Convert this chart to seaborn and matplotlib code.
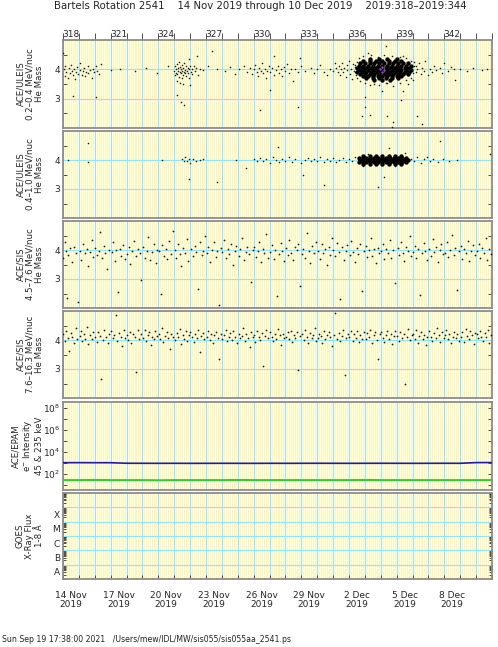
import numpy as np
import pandas as pd
import matplotlib
matplotlib.use("Agg")
import matplotlib.pyplot as plt
import matplotlib.ticker as mticker
import seaborn as sns

sns.set_theme(style="white")
plt.rcParams["font.family"] = ["DejaVu Sans"]

# Bartels rotation 2541, day of year 2019
day_start = 318
day_end = 345
top_labels = ["318", "321", "324", "327", "330", "333", "336", "339", "342"]
bottom_labels = ["14 Nov\n2019", "17 Nov\n2019", "20 Nov\n2019", "23 Nov\n2019", "26 Nov\n2019",
                 "29 Nov\n2019", "2 Dec\n2019", "5 Dec\n2019", "8 Dec\n2019"]
panel_labels = ["ACE/ULEIS\n0.2–0.4 MeV/nuc\nHe Mass",
                "ACE/ULEIS\n0.4–1.0 MeV/nuc\nHe Mass",
                "ACE/SIS\n4.5–7.6 MeV/nuc\nHe Mass",
                "ACE/SIS\n7.6–16.3 MeV/nuc\nHe Mass",
                "ACE/EPAM\ne$^{-}$ Intensity\n45 & 235 keV",
                "GOES\nX-Ray Flux\n1-8 Å"]
goes_classes = ["A", "B", "C", "M", "X"]

# ULEIS 0.2-0.4 MeV/nuc: scattered points (day, mass)
uleis_lo = [
    (318.02, 4.55), (318.05, 4.00), (318.10, 3.78), (318.15, 4.10), (318.22, 3.92), (318.30, 3.70),
    (318.35, 4.05), (318.42, 3.88), (318.50, 4.15), (318.55, 3.95), (318.60, 3.10), (318.64, 3.82),
    (318.70, 4.02), (318.75, 3.66), (318.80, 3.90), (318.88, 4.08), (318.95, 3.85), (319.05, 3.98),
    (319.10, 4.20), (319.18, 3.82), (319.25, 3.95), (319.30, 4.05), (319.38, 3.76), (319.45, 3.92),
    (319.55, 4.10), (319.60, 3.88), (319.70, 3.98), (319.80, 3.72), (319.88, 4.02), (319.95, 3.90),
    (320.05, 4.12), (320.10, 3.05), (320.15, 3.95), (320.25, 3.85), (320.40, 4.18),
    (321.0, 3.97), (321.6, 4.00), (322.5, 3.95), (323.2, 4.05), (323.9, 3.88), (324.6, 4.10),
    (325.00, 3.95), (325.04, 4.12), (325.07, 3.80), (325.10, 4.02), (325.13, 3.88), (325.16, 4.18),
    (325.19, 3.84), (325.22, 4.05), (325.25, 3.96), (325.28, 4.24), (325.31, 3.74), (325.34, 3.92),
    (325.37, 4.08), (325.40, 3.86), (325.43, 4.00), (325.46, 3.70), (325.49, 4.14), (325.52, 3.94),
    (325.55, 3.82), (325.58, 4.04), (325.61, 3.90), (325.64, 4.20), (325.67, 3.86), (325.70, 3.98),
    (325.73, 4.10), (325.76, 3.78), (325.80, 3.95), (325.84, 4.06), (325.88, 3.88), (325.92, 4.00),
    (325.96, 3.72), (326.00, 4.12), (326.05, 3.92), (326.10, 4.02), (326.15, 3.85), (326.22, 4.10),
    (326.30, 3.95), (326.40, 4.05), (326.50, 3.80), (326.62, 4.00), (325.15, 3.60), (325.35, 3.55),
    (325.55, 3.50), (325.20, 3.12), (325.40, 2.88), (325.60, 2.80), (326.0, 3.45), (326.45, 4.45),
    (325.90, 4.35), (326.8, 3.98), (327.1, 4.10), (327.4, 4.62), (327.7, 4.02), (328.2, 3.95),
    (328.5, 4.08), (328.8, 3.85), (329.1, 4.00), (329.4, 4.12), (329.6, 3.92),
    (329.8, 4.05), (329.9, 3.85), (330.0, 4.00), (330.1, 4.15), (330.2, 3.92), (330.3, 3.78),
    (330.35, 4.05), (330.45, 3.95), (330.5, 4.20), (330.6, 3.88), (330.7, 4.02), (330.75, 3.70),
    (330.85, 3.96), (330.95, 4.10), (331.0, 3.30), (331.05, 3.90), (331.15, 4.05), (331.25, 3.82),
    (331.3, 4.45), (331.4, 3.98), (331.5, 4.12), (331.6, 3.86), (331.7, 4.00), (331.8, 3.76),
    (331.9, 4.08), (332.0, 3.94), (332.1, 4.18), (332.2, 3.88), (332.35, 4.02), (332.45, 3.60),
    (330.4, 2.62), (332.6, 4.00), (332.8, 3.90), (333.0, 4.10), (333.2, 3.95), (332.8, 2.70),
    (333.6, 4.05), (333.8, 3.88), (334.0, 4.00), (334.2, 4.15), (334.4, 3.92), (334.6, 3.80),
    (334.8, 4.02), (335.0, 3.96), (335.1, 4.20), (332.9, 4.38),
    (335.2, 4.05), (335.3, 3.90), (335.35, 4.12), (335.45, 3.80), (335.5, 4.00), (335.55, 4.22),
    (335.65, 3.92), (335.7, 4.06), (335.8, 3.75), (335.85, 4.15), (335.9, 3.98), (336.0, 4.30),
    (336.05, 3.85), (336.1, 4.02), (336.2, 3.68), (336.25, 4.18), (336.3, 3.94), (336.4, 4.08),
    (336.45, 3.82), (336.5, 4.25), (336.55, 3.98),
    (337.0, 3.05), (337.0, 2.70), (336.8, 2.40), (337.3, 2.45), (338.4, 2.40), (338.8, 2.20),
    (338.7, 2.05), (339.3, 2.95), (339.4, 3.25), (338.1, 3.25), (338.4, 3.55), (337.6, 3.50),
    (339.7, 3.50), (340.0, 3.65), (338.3, 4.80), (337.2, 4.55), (339.4, 4.45),
    (336.6, 4.40), (336.9, 4.45), (337.4, 4.48), (337.8, 4.42), (338.2, 4.50), (338.7, 4.46),
    (339.2, 4.43), (339.6, 4.38), (339.9, 4.30), (340.1, 4.25), (336.5, 3.70), (336.7, 3.60),
    (337.0, 3.55), (337.3, 3.45), (337.9, 3.48), (338.3, 3.52), (338.8, 3.42), (339.2, 3.55),
    (339.6, 3.62), (339.9, 3.70), (340.0, 3.88), (340.2, 4.12), (336.4, 3.90), (336.4, 4.15),
    (340.1, 4.10), (340.2, 3.90), (340.3, 4.02), (340.4, 4.20), (340.5, 3.85), (340.6, 4.05),
    (340.7, 3.95), (340.8, 4.30), (340.95, 3.80), (341.1, 4.02), (341.2, 3.92), (341.35, 4.12),
    (341.5, 3.98), (341.7, 4.05), (341.85, 3.88), (342.0, 4.22), (342.2, 3.95), (342.4, 4.08),
    (342.6, 4.00), (342.7, 3.65), (340.3, 2.40), (340.6, 2.15),
    (343.0, 4.00), (343.4, 3.95), (343.8, 4.05), (344.4, 3.98), (344.7, 4.00),
]
# dense core of the event, rows of (mass, days)
uleis_lo_core = [
    (4.34, [337.3, 337.9, 338.4, 339.0]),
    (4.27, [336.9, 337.3, 337.7, 338.1, 338.5, 338.9, 339.3]),
    (4.20, [336.7, 337.0, 337.3, 337.6, 337.9, 338.2, 338.5, 338.8, 339.1, 339.4, 339.7]),
    (4.13, [336.6, 336.9, 337.2, 337.5, 337.8, 338.1, 338.4, 338.7, 339.0, 339.3, 339.6, 339.9]),
    (4.06, [336.5, 336.8, 337.1, 337.4, 337.7, 338.0, 338.3, 338.6, 338.9, 339.2, 339.5, 339.8]),
    (3.99, [336.6, 336.9, 337.2, 337.5, 337.8, 338.1, 338.4, 338.7, 339.0, 339.3, 339.6, 339.9]),
    (3.92, [336.5, 336.8, 337.1, 337.4, 337.7, 338.0, 338.3, 338.6, 338.9, 339.2, 339.5, 339.8]),
    (3.85, [336.7, 337.0, 337.3, 337.6, 337.9, 338.2, 338.5, 338.8, 339.1, 339.4, 339.7]),
    (3.78, [336.9, 337.2, 337.5, 337.8, 338.1, 338.4, 338.7, 339.0, 339.3]),
    (3.71, [337.1, 337.5, 337.9, 338.3, 338.7, 339.1]),
    (3.64, [337.6, 338.1, 338.6]),
]
uleis_lo_purple = [(337.95, 4.02), (338.1, 4.08), (338.2, 3.97), (338.05, 3.92)]

# ULEIS 0.4-1.0 MeV/nuc
uleis_hi = [
    (318.3, 4.00), (319.6, 4.60), (319.55, 3.92), (324.2, 4.00), (325.5, 4.05), (325.6, 3.95),
    (325.7, 4.10), (325.8, 3.98), (325.9, 4.02), (326.0, 3.90), (326.2, 4.05), (326.4, 3.95),
    (326.6, 4.00), (326.8, 4.02), (325.9, 3.35), (327.7, 3.25), (328.9, 4.00), (329.5, 3.72),
    (330.0, 4.02), (330.2, 3.95), (330.4, 4.08), (330.6, 3.98), (330.8, 4.05), (331.0, 3.90),
    (331.2, 4.12), (331.5, 4.45), (331.4, 4.00), (331.6, 3.92), (331.8, 4.05), (332.0, 3.98),
    (332.2, 4.10), (332.4, 3.94), (332.6, 4.02), (333.0, 3.90), (333.2, 4.00), (333.4, 4.08),
    (333.6, 3.96), (333.8, 4.04), (334.0, 3.98), (334.2, 4.10), (334.4, 3.92), (334.6, 4.02),
    (334.8, 3.96), (335.0, 4.06), (335.2, 3.94), (335.4, 4.00), (335.6, 4.08), (335.8, 3.92),
    (336.0, 4.04), (336.2, 3.98), (336.4, 4.10), (333.1, 3.48), (334.4, 3.14), (337.8, 3.07),
    (338.2, 3.41), (338.5, 4.41), (341.7, 4.65), (344.9, 4.20), (339.9, 4.05), (340.1, 3.95),
    (340.3, 4.10), (340.5, 3.90), (340.7, 4.02), (340.9, 4.12), (341.1, 3.96), (341.3, 4.05),
    (341.6, 3.92), (341.9, 4.02), (342.3, 3.98), (342.8, 4.00), (337.2, 4.22), (338.9, 3.78),
    (339.5, 4.25), (336.9, 3.80),
]
uleis_hi_core = [
    (4.13, [336.9, 337.3, 337.7, 338.1, 338.5, 338.9, 339.3]),
    (4.06, [336.6, 336.85, 337.1, 337.35, 337.6, 337.85, 338.1, 338.35, 338.6, 338.85, 339.1, 339.35, 339.6]),
    (4.00, [336.7, 336.95, 337.2, 337.45, 337.7, 337.95, 338.2, 338.45, 338.7, 338.95, 339.2, 339.45, 339.7]),
    (3.94, [336.6, 336.85, 337.1, 337.35, 337.6, 337.85, 338.1, 338.35, 338.6, 338.85, 339.1, 339.35, 339.6]),
    (3.87, [336.9, 337.3, 337.7, 338.1, 338.5, 338.9, 339.3]),
]

# SIS 4.5-7.6 MeV/nuc: per day, (fraction of day, mass)
sis_lo = {
    318: [(.03, 3.72), (.11, 4.28), (.19, 3.95), (.26, 2.35), (.34, 3.84), (.47, 4.06), (.58, 3.58), (.69, 4.12), (.81, 3.90), (.93, 2.22)],
    319: [(.05, 3.98), (.14, 3.66), (.23, 4.21), (.38, 3.88), (.49, 4.02), (.57, 3.45), (.68, 3.93), (.80, 4.35), (.90, 3.77)],
    320: [(.02, 4.08), (.12, 3.82), (.25, 3.97), (.33, 4.62), (.44, 3.71), (.55, 4.15), (.66, 3.89), (.77, 3.36), (.88, 4.01)],
    321: [(.06, 3.93), (.15, 4.27), (.27, 3.62), (.36, 3.99), (.45, 2.55), (.56, 4.05), (.65, 3.80), (.79, 4.18), (.91, 3.70)],
    322: [(.04, 3.86), (.13, 4.12), (.24, 3.52), (.35, 3.95), (.46, 4.30), (.58, 3.78), (.70, 4.02), (.82, 3.90), (.94, 2.95)],
    323: [(.03, 4.10), (.16, 3.74), (.26, 3.98), (.37, 4.44), (.48, 3.66), (.59, 3.92), (.71, 4.20), (.83, 3.55), (.92, 4.00)],
    324: [(.05, 3.95), (.14, 2.48), (.25, 4.16), (.34, 3.81), (.47, 4.05), (.57, 3.69), (.68, 4.32), (.79, 3.87), (.90, 4.64)],
    325: [(.02, 3.99), (.12, 3.73), (.23, 4.22), (.35, 3.86), (.44, 3.44), (.56, 4.08), (.67, 3.91), (.78, 4.38), (.89, 3.62)],
    326: [(.07, 4.03), (.18, 3.79), (.28, 4.14), (.39, 3.93), (.50, 2.65), (.60, 4.26), (.72, 3.84), (.84, 3.97), (.95, 4.47)],
    327: [(.04, 3.88), (.15, 4.11), (.26, 3.60), (.37, 4.00), (.48, 4.29), (.60, 3.76), (.70, 3.95), (.81, 2.12), (.92, 4.06)],
    328: [(.03, 3.92), (.14, 4.33), (.24, 3.71), (.36, 4.04), (.46, 3.85), (.57, 4.19), (.69, 3.50), (.80, 3.97), (.90, 4.15)],
    329: [(.06, 3.80), (.17, 4.02), (.27, 4.41), (.38, 3.66), (.49, 3.94), (.60, 4.12), (.71, 3.87), (.82, 2.90), (.93, 4.00)],
    330: [(.02, 4.09), (.13, 3.77), (.25, 3.96), (.36, 4.27), (.45, 3.58), (.57, 4.03), (.68, 3.89), (.79, 4.55), (.90, 3.72)],
    331: [(.05, 3.93), (.16, 4.18), (.26, 3.69), (.37, 4.01), (.48, 2.42), (.58, 3.85), (.70, 4.24), (.80, 3.96), (.92, 3.63)],
    332: [(.04, 4.07), (.15, 3.82), (.25, 4.36), (.35, 3.90), (.47, 3.64), (.59, 4.10), (.70, 3.99), (.81, 4.20), (.93, 2.75)],
    333: [(.03, 3.86), (.12, 4.05), (.24, 3.74), (.36, 4.58), (.46, 3.97), (.57, 3.56), (.69, 4.15), (.78, 3.91), (.90, 4.28)],
    334: [(.06, 3.95), (.17, 3.70), (.28, 4.19), (.39, 3.88), (.50, 4.03), (.61, 3.48), (.72, 4.12), (.83, 3.82), (.94, 4.40)],
    335: [(.02, 4.00), (.14, 3.78), (.24, 4.25), (.35, 3.92), (.45, 2.30), (.56, 4.09), (.67, 3.67), (.79, 3.98), (.90, 4.17)],
    336: [(.05, 3.84), (.15, 4.31), (.26, 3.94), (.38, 3.60), (.48, 4.06), (.58, 3.87), (.70, 4.22), (.81, 2.58), (.92, 3.95)],
    337: [(.04, 4.13), (.14, 3.75), (.25, 3.99), (.36, 4.42), (.46, 3.80), (.57, 4.02), (.68, 3.54), (.80, 4.08), (.91, 3.90)],
    338: [(.03, 3.96), (.13, 4.20), (.23, 3.68), (.34, 4.04), (.45, 3.88), (.56, 4.34), (.66, 3.73), (.78, 4.00), (.89, 2.85)],
    339: [(.06, 4.08), (.16, 3.83), (.27, 4.27), (.37, 3.91), (.49, 3.62), (.60, 4.11), (.71, 3.97), (.82, 4.48), (.93, 3.79)],
    340: [(.02, 3.94), (.13, 4.15), (.24, 3.72), (.35, 4.02), (.46, 2.45), (.57, 3.89), (.69, 4.23), (.80, 3.95), (.90, 3.66)],
    341: [(.05, 4.05), (.15, 3.80), (.26, 4.37), (.38, 3.93), (.48, 4.10), (.59, 3.57), (.70, 4.00), (.82, 4.19), (.93, 3.86)],
    342: [(.04, 3.90), (.14, 4.26), (.25, 3.76), (.36, 3.99), (.47, 4.52), (.58, 3.84), (.69, 4.07), (.79, 2.62), (.91, 3.97)],
    343: [(.03, 4.14), (.12, 3.70), (.24, 4.03), (.35, 3.88), (.46, 4.30), (.57, 3.61), (.68, 3.96), (.80, 4.17), (.92, 3.82)],
    344: [(.06, 3.98), (.17, 4.21), (.27, 3.74), (.38, 4.06), (.49, 3.90), (.60, 4.40), (.70, 3.66), (.81, 4.02), (.93, 3.87)],
}

# SIS 7.6-16.3 MeV/nuc
sis_hi = {
    318: [(.02, 4.20), (.11, 3.95), (.20, 4.32), (.29, 4.08), (.38, 3.62), (.48, 4.25), (.58, 4.12), (.68, 3.90), (.79, 4.40), (.90, 4.05)],
    319: [(.04, 4.15), (.13, 4.30), (.22, 3.98), (.31, 4.22), (.41, 4.05), (.50, 4.45), (.60, 3.85), (.70, 4.18), (.80, 4.02), (.91, 4.28)],
    320: [(.03, 4.10), (.12, 3.92), (.21, 4.26), (.30, 4.14), (.40, 2.65), (.50, 4.00), (.60, 4.35), (.70, 4.12), (.81, 3.88), (.92, 4.22)],
    321: [(.05, 4.30), (.14, 4.06), (.23, 4.18), (.33, 4.85), (.42, 3.95), (.52, 4.24), (.62, 4.10), (.72, 3.78), (.82, 4.36), (.93, 4.08)],
    322: [(.02, 4.16), (.11, 4.00), (.21, 4.28), (.31, 3.90), (.41, 4.20), (.51, 4.12), (.60, 2.90), (.70, 4.34), (.80, 4.04), (.90, 4.20)],
    323: [(.04, 4.08), (.13, 4.36), (.23, 3.96), (.33, 4.18), (.42, 4.26), (.52, 3.82), (.62, 4.12), (.72, 4.02), (.82, 4.30), (.92, 4.14)],
    324: [(.03, 4.22), (.12, 4.04), (.22, 4.40), (.32, 3.92), (.42, 4.14), (.52, 4.28), (.61, 4.06), (.71, 3.70), (.81, 4.20), (.91, 4.10)],
    325: [(.05, 4.00), (.15, 4.24), (.24, 4.12), (.34, 4.38), (.44, 3.86), (.53, 4.18), (.63, 4.04), (.73, 4.30), (.83, 3.98), (.93, 4.16)],
    326: [(.02, 4.26), (.12, 4.10), (.22, 3.94), (.31, 4.20), (.41, 4.06), (.51, 4.34), (.61, 3.60), (.71, 4.14), (.81, 4.24), (.90, 4.02)],
    327: [(.04, 4.12), (.14, 4.30), (.23, 4.00), (.33, 4.22), (.43, 3.90), (.53, 4.16), (.63, 4.28), (.73, 4.06), (.83, 3.34), (.93, 4.20)],
    328: [(.03, 4.04), (.13, 4.18), (.23, 4.36), (.32, 3.96), (.42, 4.12), (.52, 4.24), (.62, 4.00), (.72, 4.32), (.82, 4.10), (.92, 3.88)],
    329: [(.05, 4.22), (.15, 4.06), (.25, 4.14), (.35, 4.42), (.44, 3.98), (.54, 4.20), (.64, 4.08), (.74, 3.76), (.84, 4.26), (.94, 4.12)],
    330: [(.02, 4.16), (.11, 3.92), (.21, 4.30), (.31, 4.10), (.40, 4.00), (.50, 4.24), (.60, 3.10), (.70, 4.14), (.80, 4.34), (.90, 4.06)],
    331: [(.04, 4.28), (.14, 4.12), (.24, 3.98), (.33, 4.20), (.43, 4.04), (.53, 4.38), (.63, 4.16), (.72, 3.84), (.82, 4.22), (.92, 4.08)],
    332: [(.03, 4.10), (.13, 4.26), (.22, 4.02), (.32, 4.32), (.42, 3.94), (.51, 4.18), (.61, 4.06), (.71, 4.28), (.81, 2.95), (.91, 4.14)],
    333: [(.05, 4.20), (.15, 4.00), (.25, 4.34), (.35, 4.12), (.45, 3.90), (.55, 4.24), (.64, 4.08), (.74, 4.16), (.84, 4.40), (.94, 3.96)],
    334: [(.02, 4.06), (.12, 4.22), (.22, 4.14), (.32, 3.88), (.42, 4.30), (.52, 4.02), (.62, 4.18), (.72, 4.26), (.82, 4.10), (.92, 3.80)],
    335: [(.04, 4.18), (.14, 4.92), (.24, 4.04), (.34, 4.24), (.43, 3.96), (.53, 4.14), (.63, 4.36), (.73, 2.78), (.83, 4.08), (.93, 4.20)],
    336: [(.03, 4.12), (.13, 4.30), (.23, 3.98), (.33, 4.20), (.43, 4.06), (.52, 4.32), (.62, 3.92), (.72, 4.16), (.82, 4.04), (.92, 4.26)],
    337: [(.05, 4.02), (.15, 4.24), (.25, 4.10), (.35, 4.36), (.45, 3.90), (.55, 4.16), (.65, 4.28), (.75, 4.00), (.85, 3.36), (.95, 4.22)],
    338: [(.02, 4.26), (.12, 4.08), (.22, 3.94), (.32, 4.18), (.42, 4.32), (.52, 4.04), (.62, 4.20), (.72, 3.86), (.82, 4.14), (.92, 4.30)],
    339: [(.04, 4.14), (.14, 3.96), (.24, 4.28), (.34, 4.06), (.44, 4.20), (.54, 2.50), (.64, 4.12), (.74, 4.38), (.84, 4.00), (.94, 4.18)],
    340: [(.03, 4.22), (.13, 4.04), (.23, 4.34), (.33, 3.90), (.43, 4.14), (.53, 4.26), (.63, 4.02), (.73, 4.18), (.83, 3.82), (.93, 4.10)],
    341: [(.05, 4.30), (.15, 4.12), (.25, 3.98), (.35, 4.24), (.45, 4.06), (.55, 4.40), (.65, 4.16), (.75, 3.94), (.85, 4.28), (.95, 4.08)],
    342: [(.02, 4.16), (.12, 4.34), (.22, 4.02), (.32, 4.20), (.42, 3.88), (.52, 4.12), (.62, 4.28), (.72, 4.06), (.82, 4.22), (.92, 3.96)],
    343: [(.04, 4.10), (.14, 4.26), (.24, 3.92), (.34, 4.38), (.44, 4.14), (.54, 4.04), (.64, 4.30), (.74, 4.18), (.84, 3.86), (.94, 4.24)],
    344: [(.03, 4.20), (.13, 4.06), (.23, 4.32), (.33, 4.12), (.43, 3.98), (.53, 4.24), (.63, 4.10), (.73, 4.36), (.83, 3.90), (.93, 4.16)],
}

# EPAM electron intensity, one value per day
epam_days = list(range(318, 346))
epam_45 = [1080, 1085, 1075, 1070, 960, 950, 945, 950, 940, 945, 950, 945, 940, 950,
           945, 950, 955, 950, 945, 950, 955, 950, 945, 950, 955, 950, 1100, 1110]
epam_235 = [28, 28, 29, 28, 28, 28, 27, 28, 28, 28, 28, 29, 28, 28,
            28, 28, 28, 28, 28, 29, 28, 28, 28, 28, 28, 28, 28, 28]


def pts_df(points):
    return pd.DataFrame(points, columns=["day", "mass"])


def rows_df(rows):
    return pd.DataFrame([(x, m) for m, xs in rows for x in xs], columns=["day", "mass"])


def day_df(per_day):
    return pd.DataFrame([(d + f, m) for d, pts in per_day.items() for f, m in pts],
                        columns=["day", "mass"])


W, H = 498, 647
left, right = 63, 492
panel_px = [(40, 128), (131, 218), (221, 308), (311, 398), (402, 490), (493, 579)]

fig = plt.figure(figsize=(W / 100, H / 100), dpi=100)
axes = []
for top, bot in panel_px:
    ax = fig.add_axes([left / W, 1 - bot / H, (right - left) / W, (bot - top) / H])
    axes.append(ax)

yellow = "#fff6b4"
cyan = "#8fe6fa"
dot = "#1a1a1a"

for ax, lab in zip(axes, panel_labels):
    ax.set_xlim(day_start, day_end)
    ax.set_facecolor("#fffdec")
    ax.vlines(np.arange(day_start, day_end, 0.125), 0, 1, transform=ax.get_xaxis_transform(),
              color=yellow, lw=0.72, zorder=0, snap=True, antialiased=False)
    ax.vlines(np.arange(day_start, day_end + 1), 0, 1, transform=ax.get_xaxis_transform(),
              color=cyan, lw=0.72, zorder=0.5, snap=True, antialiased=False)
    for s in ax.spines.values():
        s.set_color("#8c8c8c")
        s.set_linewidth(1.3)
    ax.set_ylabel(lab, fontsize=6.2, linespacing=1.05)
    ax.yaxis.set_label_coords(-0.045, 0.5)
    ax.tick_params(axis="x", which="both", bottom=False, top=False, labelbottom=False, labeltop=False)
    ax.tick_params(axis="y", which="both", left=True, right=True, direction="in",
                   length=3, width=0.6, color="#333333", labelsize=6.5, pad=2)

# mass panels
mass_data = [
    (pts_df(uleis_lo), rows_df(uleis_lo_core)),
    (pts_df(uleis_hi), rows_df(uleis_hi_core)),
    (day_df(sis_lo), None),
    (day_df(sis_hi), None),
]
for i, (df, core) in enumerate(mass_data):
    ax = axes[i]
    for m in (3, 4):
        ax.axhline(m, color=cyan, lw=0.8, zorder=0.6)
    sns.scatterplot(data=df, x="day", y="mass", ax=ax, s=1.6 if core is None else 1.3,
                    color=dot, linewidth=0, legend=False, zorder=3)
    if core is not None:
        sns.scatterplot(data=core, x="day", y="mass", ax=ax, s=10, color="black",
                        linewidth=0, legend=False, zorder=3)
    ax.set_ylim(2, 5)
    ax.yaxis.set_major_locator(mticker.FixedLocator([3, 4]))
    ax.yaxis.set_minor_locator(mticker.FixedLocator([2.5, 3.5, 4.5]))
    ax.yaxis.set_major_formatter(mticker.FormatStrFormatter("%d"))
    ax.set_xlabel("")
    ax.set_ylabel(panel_labels[i], fontsize=6.2, linespacing=1.05)

sns.scatterplot(data=pts_df(uleis_lo_purple), x="day", y="mass", ax=axes[0], s=3,
                color="#a040d0", linewidth=0, legend=False, zorder=4)

# EPAM electrons
ax = axes[4]
sns.lineplot(x=epam_days, y=epam_45, ax=ax, color="#1c1ca8", lw=1.2, zorder=3)
sns.lineplot(x=epam_days, y=epam_235, ax=ax, color="#33cc33", lw=1.5, zorder=3)
ax.set_yscale("log")
ax.set_ylim(10 ** 0.55, 10 ** 8.55)
ax.yaxis.set_major_locator(mticker.FixedLocator([1e2, 1e4, 1e6, 1e8]))
ax.yaxis.set_major_formatter(mticker.LogFormatterSciNotation())
ax.yaxis.set_minor_locator(mticker.FixedLocator([1e1, 1e3, 1e5, 1e7]))
ax.yaxis.set_minor_formatter(mticker.NullFormatter())
ax.set_xlim(day_start, day_end)

# GOES x-ray flux (no data this rotation)
ax = axes[5]
ax.set_yscale("log")
ax.set_ylim(1e-9, 1e-3)
for e in range(-8, -3):
    ax.axhline(10.0 ** e, color=cyan, lw=0.8, zorder=0.6)
ax.yaxis.set_major_locator(mticker.FixedLocator([10 ** (-8.5 + k) for k in range(len(goes_classes))]))
ax.yaxis.set_major_formatter(mticker.FixedFormatter(goes_classes))
ax.yaxis.set_minor_locator(mticker.LogLocator(base=10, subs=np.arange(1, 10), numticks=20))
ax.yaxis.set_minor_formatter(mticker.NullFormatter())
ax.tick_params(axis="y", which="major", length=0)
ax.tick_params(axis="y", which="minor", length=2.5, width=0.6)

# day ticks and labels
label_pos = [float(t) + 0.5 for t in top_labels]
ax = axes[0]
ax.set_xticks(np.arange(day_start, day_end + 1))
ax.set_xticks(label_pos, minor=True)
ax.set_xticklabels(top_labels, minor=True)
ax.tick_params(axis="x", which="major", top=True, direction="out", length=5, width=0.6, color="#333333")
ax.tick_params(axis="x", which="minor", top=True, labeltop=True, length=0, pad=0.5, labelsize=6.5)

ax = axes[5]
ax.set_xticks(np.arange(day_start, day_end + 1))
ax.set_xticks(label_pos, minor=True)
ax.set_xticklabels(bottom_labels, minor=True)
ax.tick_params(axis="x", which="major", bottom=True, direction="in", length=3, width=0.6, color="#333333")
ax.tick_params(axis="x", which="minor", bottom=True, labelbottom=True, length=0, pad=9,
               labelsize=6.5)
for t in ax.get_xticklabels(minor=True):
    t.set_linespacing(0.95)

fig.text(0.522, 1 - 6 / H,
         "Bartels Rotation 2541    14 Nov 2019 through 10 Dec 2019    2019:318–2019:344",
         ha="center", va="center", fontsize=7.3, color="#222222")
fig.text(2 / W, 1 - 640 / H,
         "Sun Sep 19 17:38:00 2021   /Users/mew/IDL/MW/sis055/sis055aa_2541.ps",
         ha="left", va="center", fontsize=5.6, color="#222222")

fig.savefig("out.png", dpi=100)
